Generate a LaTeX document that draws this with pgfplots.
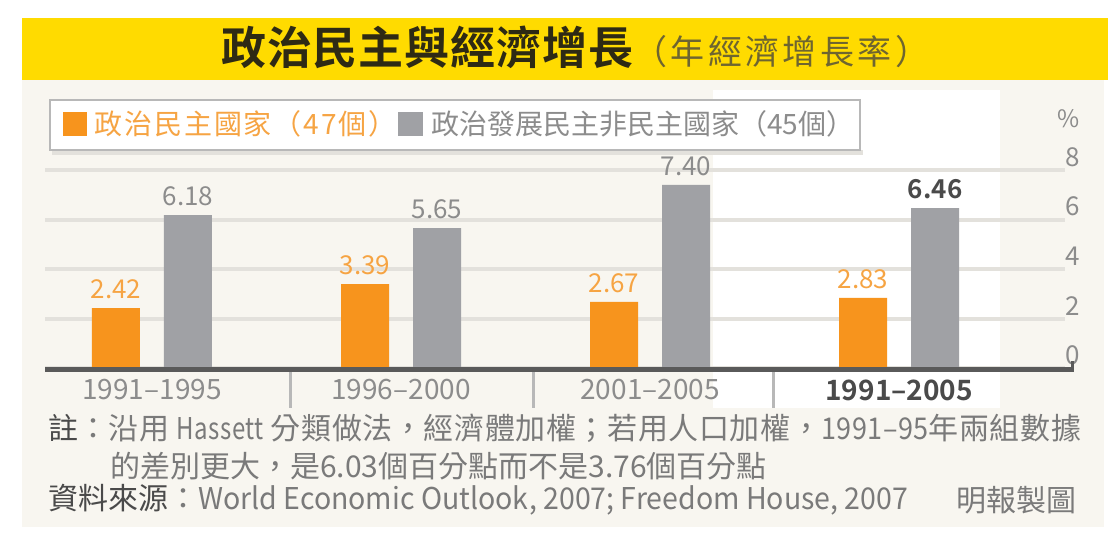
\documentclass[border=0pt]{standalone}
\usepackage{pgfplots}
\pgfplotsset{compat=1.18}
\usepackage{graphicx}
\usepackage{fontspec}
\setmainfont{Noto Sans CJK TC}[BoldFont={Noto Sans CJK TC Bold}]

\definecolor{titlebar}{HTML}{FFDB00}
\definecolor{panel}{HTML}{F8F6F0}
\definecolor{orangebar}{HTML}{F7941D}
\definecolor{orangetxt}{HTML}{F6A443}
\definecolor{graybar}{HTML}{A0A1A5}
\definecolor{graytxt}{HTML}{8C8C8C}
\definecolor{darktxt}{HTML}{4A4A4A}
\definecolor{foottxt}{HTML}{7A7A7A}
\definecolor{gridc}{HTML}{E3E1DC}
\definecolor{basec}{HTML}{5A5A5A}
\definecolor{sepc}{HTML}{B8B8B8}
\definecolor{titletxt}{HTML}{2E2A14}
\definecolor{subtxt}{HTML}{6E6530}

\newcommand\fs[1]{\fontsize{#1bp}{#1bp}\selectfont}
\newcommand\narrow[2]{\scalebox{#1}[1]{#2}}

\begin{document}
\begin{tikzpicture}[x=1bp,y=1bp]
% background and panels
\fill[white] (0,0) rectangle (1117,-540);
\fill[panel] (22,-80) rectangle (1104,-527);
\fill[titlebar] (22,-18) rectangle (1108,-80);
\fill[white] (713,-90) rectangle (1000,-408);

% title
\node[anchor=west, inner sep=0pt] at (221,-47)
  {{\fs{45}\bfseries\addfontfeatures{LetterSpace=2}\color{titletxt}政治民主與經濟增長}{\fs{34}\addfontfeatures{LetterSpace=10}\color{subtxt}（年經濟增長率）}};

% legend
\fill[gridc] (52,-150) rectangle (863,-155);
\draw[draw=sepc, line width=2.5bp, fill=white] (50,-100) rectangle (860,-150);
\fill[orangebar] (63,-112) rectangle (87,-136);
\fill[graybar] (398,-112) rectangle (423,-136);
\node[anchor=west, inner sep=0pt, font=\fs{28}\addfontfeatures{LetterSpace=7}, text=orangetxt] at (94,-124) {政治民主國家（47個）};
\node[anchor=west, inner sep=0pt, font=\fs{28}, text=graytxt] at (431,-124) {政治發展民主非民主國家（45個）};

\begin{axis}[
  at={(45bp,-368bp)}, anchor=south west,
  scale only axis, width=1020bp, height=198bp,
  xmin=-0.4295, xmax=3.666, ymin=0, ymax=8,
  axis line style={draw=none},
  clip=false,
  major tick length=0pt,
  ytick={0,2,4,6,8},
  ymajorgrids, grid style={gridc, line width=4bp},
  yticklabel pos=right,
  /pgf/number format/assume math mode=true,
  yticklabel style={anchor=south east, inner sep=0pt, xshift=15bp, yshift=3bp, font=\fs{26}, text=graytxt},
  xtick={0,1,2,3},
  xticklabels={1991--1995,1996--2000,2001--2005,{\bfseries\color{darktxt}1991--2005}},
  xticklabel style={anchor=center, inner sep=0pt, yshift=-22bp, font=\fs{28}, text=graytxt},
  ybar, bar width=48bp,
  nodes near coords, point meta=explicit symbolic,
  every node near coord/.append style={anchor=south, inner sep=0pt, yshift=9bp, font=\fs{26}},
]
\addplot[fill=orangebar, draw=none, bar shift=-36bp,
  every node near coord/.append style={text=orangetxt}]
  coordinates {(0,2.42) [2.42] (1,3.39) [3.39] (2,2.67) [2.67] (3,2.83) [2.83]};
\addplot[fill=graybar, draw=none, bar shift=36bp,
  every node near coord/.append style={text=graytxt}]
  coordinates {(0,6.18) [6.18] (1,5.65) [5.65] (2,7.40) [7.40] (3,6.46) [{\bfseries\color{darktxt}6.46}]};
\end{axis}

% baseline, separators, unit
\draw[basec, line width=5bp] (45,-370) -- (1074,-370);
\draw[basec, line width=3bp] (1072.5,-372) -- (1072.5,-361);
\foreach \sx in {290,533,773} \draw[sepc, line width=3bp] (\sx,-372.5) -- (\sx,-408);
\node[anchor=south east, inner sep=0pt, font=\fs{24}, text=graytxt] at (1080,-128) {\%};

% notes
\node[anchor=west, inner sep=0pt, font=\fs{30}\addfontfeatures{LetterSpace=2}, text=foottxt] at (48,-428)
  {{\color{darktxt}註}：沿用 \narrow{0.8}{Hassett} 分類做法，經濟體加權；若用人口加權，\narrow{0.9}{1991--95}年兩組數據};
\node[anchor=west, inner sep=0pt, font=\fs{30}, text=foottxt] at (110,-466)
  {的差別更大，是6.03個百分點而不是3.76個百分點};
\node[anchor=west, inner sep=0pt, font=\fs{30}, text=foottxt] at (48,-500)
  {{\color{darktxt}資料來源}：\narrow{0.95}{World Economic Outlook, 2007; Freedom House, 2007}};
\node[anchor=east, inner sep=0pt, font=\fs{30}, text=foottxt] at (1077,-500) {明報製圖};

\pgfresetboundingbox
\path[use as bounding box] (0,0) rectangle (1117,-540);
\end{tikzpicture}
\end{document}
